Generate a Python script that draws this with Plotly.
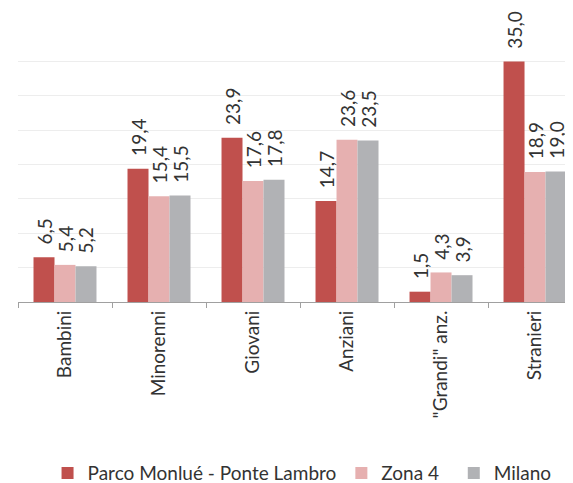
import plotly.graph_objects as go

# Dati
categorie = ['Bambini', 'Minorenni', 'Giovani', 'Anziani', '"Grandi" anz.', 'Stranieri']
parco_monlue = [6.5, 19.4, 23.9, 14.7, 1.5, 35.0]
zona_4 = [5.4, 15.4, 17.6, 23.6, 4.3, 18.9]
milano = [5.2, 15.5, 17.8, 23.5, 3.9, 19.0]

nbsp = '\u00a0'
serie = [
    ('Parco Monlué - Ponte Lambro', parco_monlue, '#C0504D'),
    ('Zona 4' + nbsp * 2, zona_4, '#E6B0B0'),
    ('Milano', milano, '#B1B2B5'),
]

font_nome = 'Lato'
colore_testo = '#333333'

fig = go.Figure()

for nome, valori, colore in serie:
    fig.add_trace(go.Bar(
        x=categorie,
        y=valori,
        name=nome,
        marker=dict(color=colore, line=dict(width=0)),
        # spazi iniziali per staccare l'etichetta dalla barra
        text=[nbsp * 2 + f"{v:.1f}".replace('.', ',') for v in valori],
        textposition='outside',
        textangle=-90,
        textfont=dict(family=font_nome, size=19, color=colore_testo),
        constraintext='none',
        cliponaxis=False,
    ))

# la pagina html ha un margine di 8px attorno al grafico
fig.update_layout(
    width=565,
    height=475,
    margin=dict(l=10, r=0, t=19, b=181),
    barmode='group',
    bargap=0.33,
    bargroupgap=0,
    plot_bgcolor='white',
    paper_bgcolor='white',
    font=dict(family=font_nome, size=19, color=colore_testo),
    xaxis=dict(
        range=[-0.5, 5.404],
        automargin=False,
        tickangle=-90,
        tickson='boundaries',
        ticks='outside',
        ticklen=5,
        tickcolor='#A0A0A0',
        showline=True,
        linecolor='#A0A0A0',
        linewidth=1,
        showgrid=False,
        tickfont=dict(family=font_nome, size=19, color=colore_testo),
    ),
    yaxis=dict(
        range=[0, 40],
        automargin=False,
        dtick=5,
        showticklabels=False,
        showgrid=True,
        gridcolor='#EDEDED',
        gridwidth=1,
        zeroline=False,
        showline=False,
    ),
    legend=dict(
        orientation='h',
        xref='container',
        yref='container',
        x=0.07,
        xanchor='left',
        y=0.021,
        yanchor='middle',
        itemwidth=30,
        font=dict(family=font_nome, size=19, color=colore_testo),
    ),
)

fig.write_html("out.html")
